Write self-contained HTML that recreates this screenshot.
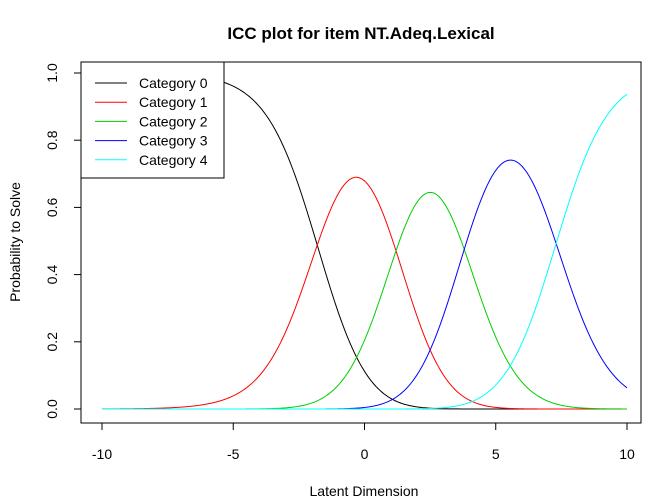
<!DOCTYPE html>
<html><head><meta charset="utf-8"><style>
body{margin:0;background:#fff;}
svg{display:block;font-family:"Liberation Sans",Arial,sans-serif;}
</style></head><body>
<svg id="chart" width="672" height="504" viewBox="0 0 672 504">
<text x="361" y="39" text-anchor="middle" font-size="17" font-weight="bold">ICC plot for item NT.Adeq.Lexical</text>
<rect x="81" y="62" width="560" height="361" fill="none" stroke="#000"/>
<g id="xaxis"></g>
<g id="yaxis"></g>
<text x="364" y="496" text-anchor="middle" font-size="14">Latent Dimension</text>
<text transform="translate(20,242) rotate(-90)" text-anchor="middle" font-size="14">Probability to Solve</text>
<g id="series"></g>
<g id="legend"></g>
</svg>
<script>
const categories = ["Category 0","Category 1","Category 2","Category 3","Category 4"];
const colors = ["#000000","#ff0000","#00cd00","#0000ff","#00ffff"];
const thresholds = [-1.8, 1.2, 3.8, 7.3];
const xTicks = [-10,-5,0,5,10];
const yTicks = [0.0,0.2,0.4,0.6,0.8,1.0];
const yTickLabels = ["0.0","0.2","0.4","0.6","0.8","1.0"];

const NS="http://www.w3.org/2000/svg";
const sx = v => 364.5 + v*26.25;
const sy = v => 409 - v*336;
function mk(tag, attrs, parent){const e=document.createElementNS(NS,tag);for(const k in attrs)e.setAttribute(k,attrs[k]);parent.appendChild(e);return e;}

const xa=document.getElementById('xaxis');
mk('line',{x1:sx(xTicks[0]),x2:sx(xTicks[xTicks.length-1]),y1:423,y2:423,stroke:'#000'},xa);
xTicks.forEach(t=>{
  const l=mk('line',{x1:sx(t),x2:sx(t),y1:423,y2:430,stroke:'#000'},xa);
  
  
  const tx=mk('text',{x:sx(t),y:459,'text-anchor':'middle','font-size':'14'},xa);
  tx.textContent=t;
  
  
});
const ya=document.getElementById('yaxis');
mk('line',{x1:81,x2:81,y1:sy(0),y2:sy(1),stroke:'#000'},ya);
yTicks.forEach((t,i)=>{
  const l=mk('line',{x1:74,x2:81,y1:sy(t),y2:sy(t),stroke:'#000'},ya);
  
  
  const tx=mk('text',{transform:`translate(57,${sy(t)}) rotate(-90)`,'text-anchor':'middle','font-size':'14'},ya);
  tx.textContent=yTickLabels[i];
  
  
});

function probs(th){
  const z=[0];
  for(let k=0;k<thresholds.length;k++) z.push(z[k]+(th-thresholds[k]));
  const m=Math.max(...z);const e=z.map(v=>Math.exp(v-m));const s=e.reduce((a,b)=>a+b,0);
  return e.map(v=>v/s);
}
const sg=document.getElementById('series');
mk('line',{x1:sx(-10),x2:sx(10),y1:sy(0),y2:sy(0),stroke:'#999'},sg);
categories.forEach((c,k)=>{
  let d='';
  for(let i=0;i<=400;i++){const th=-10+i*0.05;const p=probs(th)[k];d+=(i?'L':'M')+sx(th).toFixed(2)+','+sy(p).toFixed(2);}
  const p=mk('path',{d:d,fill:'none',stroke:colors[k],'stroke-width':'1'},sg);
  
  
});

const lg=document.getElementById('legend');
const box=mk('rect',{x:81,y:62,width:143,height:116,fill:'#fff',stroke:'#000'},lg);


categories.forEach((c,k)=>{
  const y=83+k*19.2;
  const l=mk('line',{x1:95,x2:127,y1:y,y2:y,stroke:colors[k]},lg);
  
  
  const t=mk('text',{x:139,y:y+5,'font-size':'14'},lg);
  t.textContent=c;
  
  
});
</script>
</body></html>
